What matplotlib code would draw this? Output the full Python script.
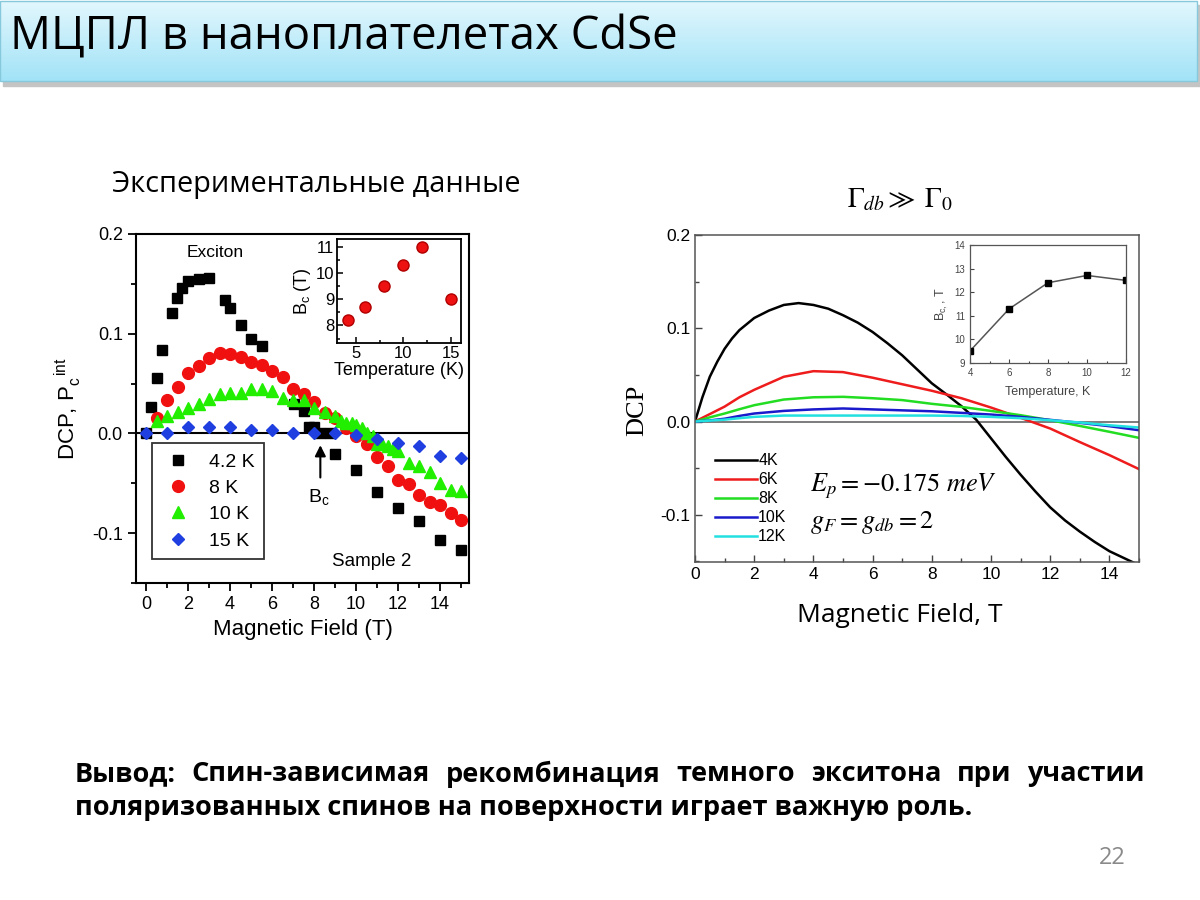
import numpy as np
import matplotlib.pyplot as plt
from matplotlib.ticker import MultipleLocator, FormatStrFormatter
from matplotlib.patches import Rectangle
from matplotlib.colors import LinearSegmentedColormap

plt.rcParams['font.family'] = ['Liberation Sans', 'DejaVu Sans']
CAL = ['Open Sans', 'DejaVu Sans']   # stand-in for Calibri

# ---------- left: experiment ----------
B_42 = [0, 0.22, 0.52, 0.76, 1.25, 1.49, 1.73, 2.0, 2.5, 3.0, 3.76, 4.0, 4.5, 5.0, 5.5,
        7.05, 7.5, 7.75, 8.0, 8.3, 8.76, 9.0, 10, 11, 12, 13, 14, 15]
P_42 = [0, 0.027, 0.056, 0.084, 0.121, 0.136, 0.146, 0.153, 0.155, 0.156, 0.134, 0.126, 0.109,
        0.095, 0.088, 0.030, 0.022, 0.006, 0.006, 0.0, 0.0, -0.021, -0.037, -0.059, -0.075,
        -0.088, -0.107, -0.117]
B_8 = [0.5, 1, 1.5, 2, 2.5, 3, 3.5, 4, 4.5, 5, 5.5, 6, 6.5, 7, 7.5, 8, 8.5, 9, 9.5, 10,
       10.5, 11, 11.5, 12, 12.5, 13, 13.5, 14, 14.5, 15]
P_8 = [0.015, 0.034, 0.047, 0.061, 0.068, 0.076, 0.081, 0.080, 0.077, 0.072, 0.069, 0.063,
       0.057, 0.045, 0.040, 0.032, 0.020, 0.015, 0.005, -0.003, -0.011, -0.024, -0.033,
       -0.047, -0.051, -0.062, -0.069, -0.072, -0.080, -0.087]
B_10 = [0.5, 1, 1.5, 2, 2.5, 3, 3.5, 4, 4.5, 5, 5.5, 6, 6.5, 7, 7.5, 8, 8.5, 9, 9.3, 9.5,
        9.8, 10, 10.3, 10.5, 10.8, 11, 11.25, 11.5, 11.75, 12, 12.5, 13, 13.5, 14, 14.5, 15]
P_10 = [0.012, 0.017, 0.021, 0.026, 0.030, 0.035, 0.040, 0.041, 0.041, 0.045, 0.045, 0.043,
        0.036, 0.034, 0.034, 0.026, 0.021, 0.017, 0.012, 0.010, 0.010, 0.008, 0.005, 0.0,
        -0.003, -0.011, -0.011, -0.013, -0.016, -0.018, -0.030, -0.033, -0.039, -0.050,
        -0.057, -0.058]
B_15 = [0, 1, 2, 3, 4, 5, 6, 7, 8, 9, 10, 11, 12, 13, 14, 15]
P_15 = [0, 0, 0.006, 0.006, 0.006, 0.003, 0.003, 0, 0, 0, -0.002, -0.006, -0.010, -0.013,
        -0.023, -0.025]

T_exp = [4.2, 6, 8, 10, 12, 15]
Bc_exp = [8.2, 8.7, 9.5, 10.3, 11.0, 9.0]

# ---------- right: model ----------
field_4K = [0, 0.25, 0.5, 0.75, 1, 1.25, 1.5, 2, 2.5, 3, 3.5, 4, 4.5, 5, 5.5, 6, 6.5, 7, 7.5,
            8, 8.5, 9, 9.5, 10, 10.5, 11, 11.5, 12, 12.5, 13, 13.5, 14, 14.8]
dcp_4K = [0, 0.026, 0.048, 0.064, 0.078, 0.089, 0.098, 0.111, 0.119, 0.125, 0.127, 0.125,
          0.121, 0.114, 0.106, 0.096, 0.084, 0.071, 0.056, 0.041, 0.029, 0.0165, 0.002,
          -0.018, -0.038, -0.057, -0.075, -0.092, -0.106, -0.118, -0.129, -0.139, -0.151]
field = [0, 0.5, 1, 1.5, 2, 3, 4, 5, 6, 7, 8, 9, 10, 11, 12, 13, 14, 15]
dcp_6K = [0, 0.008, 0.016, 0.026, 0.034, 0.048, 0.054, 0.053, 0.047, 0.040, 0.033, 0.025,
          0.015, 0.004, -0.0075, -0.022, -0.036, -0.051]
dcp_8K = [0, 0.0045, 0.0086, 0.0132, 0.0175, 0.0236, 0.026, 0.0265, 0.025, 0.023, 0.019,
          0.0157, 0.0114, 0.0068, 0.0014, -0.0047, -0.011, -0.0175]
dcp_10K = [0, 0.0012, 0.003, 0.006, 0.0086, 0.0114, 0.013, 0.014, 0.013, 0.012, 0.011,
           0.0093, 0.0075, 0.005, 0.0018, -0.0014, -0.005, -0.0093]
dcp_12K = [0, 0.001, 0.002, 0.0036, 0.005, 0.0064, 0.0064, 0.0064, 0.0064, 0.0064, 0.0064,
           0.006, 0.005, 0.0036, 0.0014, -0.001, -0.004, -0.0064]

T_fit = [4, 6, 8, 10, 12]
Bc_fit = [9.51, 11.29, 12.4, 12.71, 12.5]

W, H = 1200, 900
fig = plt.figure(figsize=(12, 9), dpi=100)


def box(l, t, r, b):
    return [l / W, 1 - b / H, (r - l) / W, (b - t) / H]


# header band
hax = fig.add_axes(box(0, 0, 1200, 92))
hax.axis('off')
hax.add_patch(Rectangle((3, 5), 1197, 81, color='#c4c4c4', zorder=0))
grad = np.linspace(0, 1, 100)[:, None]
hax.imshow(grad, extent=(0, 1197, 81, 1), aspect='auto', zorder=1,
           cmap=LinearSegmentedColormap.from_list('h', ['#e2f7fd', '#a2e3f7']))
hax.add_patch(Rectangle((0, 1), 1197, 80, fill=False, ec='#86c9dc', lw=1, zorder=2))
hax.set_xlim(0, 1200)
hax.set_ylim(92, 0)

# ---------- left main axes ----------
ax = fig.add_axes(box(136, 234, 469, 583))
ax.plot(B_42, P_42, 's', color='black', ms=7, label='4.2 K')
ax.plot(B_8, P_8, 'o', color='#f01010', ms=8.5, label='8 K')
ax.plot(B_10, P_10, '^', color='#22ee00', ms=8.5, label='10 K')
ax.plot(B_15, P_15, 'D', color='#1f3fe0', ms=6.5, label='15 K')
ax.axhline(0, color='black', lw=1.5, zorder=0)
ax.set_xlim(-0.48, 15.38)
ax.set_ylim(-0.15, 0.2)
ax.xaxis.set_major_locator(MultipleLocator(2))
ax.xaxis.set_minor_locator(MultipleLocator(1))
ax.yaxis.set_major_locator(MultipleLocator(0.1))
ax.yaxis.set_minor_locator(MultipleLocator(0.05))
ax.yaxis.set_major_formatter(FormatStrFormatter('%.1f'))
ax.tick_params(which='both', direction='out', width=1.3, labelsize=13)
ax.tick_params(which='major', length=6)
ax.tick_params(which='minor', length=3.5)
for s in ax.spines.values():
    s.set_linewidth(1.5)
ax.set_xlabel('Magnetic Field (T)', fontsize=16, labelpad=4)
ax.set_ylabel(r'DCP, P$_\mathregular{c}^{\ \ \mathregular{int}}$', fontsize=16, labelpad=6)
ax.text(3.3, 0.181, 'Exciton', fontsize=12.5, ha='center', va='center')
ax.text(10.75, -0.128, 'Sample 2', fontsize=13.5, ha='center', va='center')
ax.annotate('', xy=(8.3, -0.009), xytext=(8.3, -0.047),
            arrowprops=dict(arrowstyle='-|>', color='black', lw=1.5, mutation_scale=16))
ax.text(8.25, -0.065, r'B$_\mathregular{c}$', fontsize=14, ha='center', va='center')
leg = ax.legend(loc='lower left', bbox_to_anchor=(0.02, 0.04), fontsize=14, frameon=True,
                fancybox=False, edgecolor='black', handletextpad=0.8, labelspacing=0.45,
                borderpad=0.5, handlelength=1.6)
leg.get_frame().set_linewidth(1.3)

# left inset
ia = fig.add_axes(box(337, 239, 461, 343))
ia.plot(T_exp, Bc_exp, 'o', color='#ee1111', mec='#b00000', ms=8)
ia.set_xlim(3.0, 16.1)
ia.set_ylim(7.33, 11.3)
ia.xaxis.set_major_locator(MultipleLocator(5))
ia.xaxis.set_minor_locator(MultipleLocator(2.5))
ia.yaxis.set_major_locator(MultipleLocator(1))
ia.yaxis.set_minor_locator(MultipleLocator(0.5))
ia.tick_params(which='both', direction='in', labelsize=12, width=1.1, pad=2)
ia.tick_params(which='major', length=4)
ia.tick_params(which='minor', length=2)
for s in ia.spines.values():
    s.set_linewidth(1.3)
ia.set_xlabel('Temperature (K)', fontsize=13, labelpad=1)
ia.set_ylabel(r'B$_\mathregular{c}$ (T)', fontsize=13, labelpad=2)

# ---------- right main axes ----------
bx = fig.add_axes(box(695, 235, 1139, 562))
bx.axhline(0, color='#666666', lw=1.2, zorder=0)
bx.plot(field_4K, dcp_4K, color='black', lw=1.8, label='4K')
bx.plot(field, dcp_6K, color='#ee1c1c', lw=1.8, label='6K')
bx.plot(field, dcp_8K, color='#22dd22', lw=1.8, label='8K')
bx.plot(field, dcp_10K, color='#1a1acc', lw=1.8, label='10K')
bx.plot(field, dcp_12K, color='#22e0e0', lw=1.8, label='12K')
bx.set_xlim(0, 15)
bx.set_ylim(-0.1506, 0.2)
bx.xaxis.set_major_locator(MultipleLocator(2))
bx.xaxis.set_minor_locator(MultipleLocator(1))
bx.yaxis.set_major_locator(MultipleLocator(0.1))
bx.yaxis.set_minor_locator(MultipleLocator(0.05))
bx.yaxis.set_major_formatter(plt.FuncFormatter(lambda v, p: '0.0' if abs(v) < 1e-9 else '%.1f' % v))
bx.tick_params(which='both', direction='in', labelsize=12.5, color='#444444', width=1)
bx.tick_params(which='major', length=5)
bx.tick_params(which='minor', length=3)
for s in bx.spines.values():
    s.set_color('#555555')
    s.set_linewidth(1.1)
bx.legend(loc='lower left', bbox_to_anchor=(0.02, 0.02), frameon=False, fontsize=11.5,
          handlelength=2.6, handletextpad=0.1, labelspacing=0.25, borderpad=0.2)
bx.text(0.26, 0.23, r'$E_p = -0.175\ meV$', transform=bx.transAxes, fontsize=19,
        math_fontfamily='stix', va='center')
bx.text(0.26, 0.12, r'$g_F = g_{db} = 2$', transform=bx.transAxes, fontsize=19,
        math_fontfamily='stix', va='center')

# right inset
ib = fig.add_axes(box(970, 245, 1126, 363))
ib.plot(T_fit, Bc_fit, '-', color='#555555', lw=1.1)
ib.plot(T_fit, Bc_fit, 's', color='black', ms=4)
ib.set_xlim(4, 12)
ib.set_ylim(9, 14)
ib.xaxis.set_major_locator(MultipleLocator(2))
ib.xaxis.set_minor_locator(MultipleLocator(1))
ib.yaxis.set_major_locator(MultipleLocator(1))
ib.tick_params(which='both', direction='in', labelsize=7, colors='#444444', width=0.8)
ib.tick_params(which='major', length=3)
ib.tick_params(which='minor', length=1.5)
for s in ib.spines.values():
    s.set_color('#555555')
    s.set_linewidth(0.9)
ib.set_xlabel('Temperature, K', fontsize=9, color='#444444', labelpad=6)
ib.set_ylabel(r'B$_\mathregular{c,}$, T', fontsize=9, color='#444444', labelpad=3)

# ---------- slide texts ----------
r = fig.canvas.get_renderer()


def fit(txt, width):
    bb = txt.get_window_extent(renderer=r)
    txt.set_fontsize(txt.get_fontsize() * width / bb.width)


t = fig.text(10 / W, 1 - 38 / H, 'МЦПЛ в наноплателетах CdSe', family=CAL, fontsize=34,
             va='center', ha='left')
fit(t, 668)
t = fig.text(112 / W, 1 - 185 / H, 'Экспериментальные данные', family=CAL, fontsize=19,
             va='center', ha='left')
fit(t, 408)
t = fig.text(797 / W, 1 - 615 / H, 'Magnetic Field, T', family=CAL, fontsize=17,
             va='center', ha='left')
fit(t, 206)
fig.text(637 / W, 1 - 410 / H, 'DCP', family=['Liberation Serif'], fontsize=19, rotation=90,
         va='center', ha='center')
fig.text(900 / W, 1 - 200 / H, r'$\Gamma_{db} \gg\ \Gamma_0$', fontsize=20,
         math_fontfamily='stix', ha='center', va='center')
fig.text(1112 / W, 1 - 858 / H, '22', family=CAL, fontsize=17, color='#8a8a8a',
         ha='center', va='center')

# conclusion, first line justified
line1 = 'Вывод: Спин-зависимая рекомбинация темного экситона при участии'.split()
line2 = 'поляризованных спинов на поверхности играет важную роль.'
t2 = fig.text(75 / W, 1 - 808 / H, line2, family=CAL, weight='bold', fontsize=17,
              va='center', ha='left')
fit(t2, 895)
fs = t2.get_fontsize()
words = [fig.text(0, 1 - 774 / H, w, family=CAL, weight='bold', fontsize=fs,
                  va='center', ha='left') for w in line1]
widths = [w.get_window_extent(renderer=r).width for w in words]
gap = (1145 - 75 - sum(widths)) / (len(words) - 1)
x = 75
for w, wd in zip(words, widths):
    w.set_x(x / W)
    x += wd + gap

fig.savefig('out.png', dpi=100)
